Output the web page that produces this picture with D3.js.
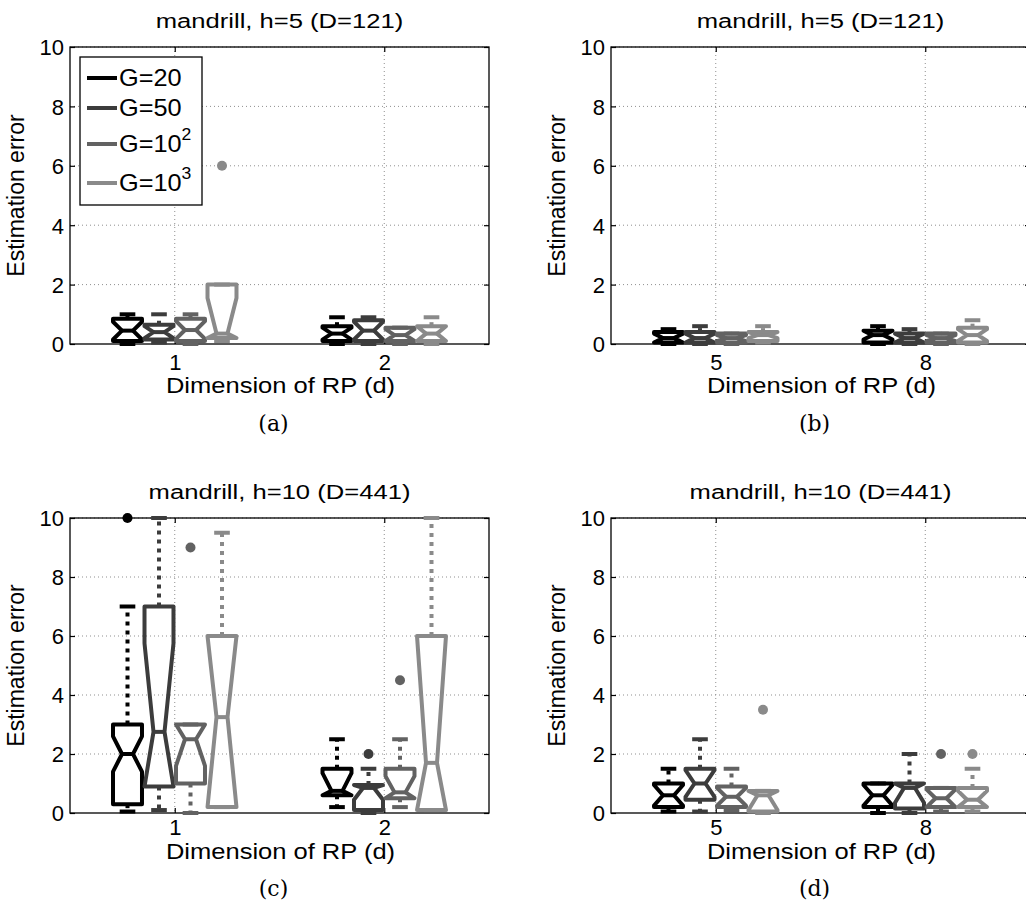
<!DOCTYPE html>
<html>
<head>
<meta charset="utf-8">
<script src="https://cdn.jsdelivr.net/npm/d3@7"></script>
<style>
  body { margin: 0; background: #fff; }
  text { font-family: "Liberation Sans", Arial, sans-serif; fill: #000; }
  .caption { font-family: "DejaVu Serif", "Liberation Serif", serif; }
</style>
</head>
<body>
<svg id="chart" width="1026" height="915"></svg>
<script>
// ---------------- data ----------------
var groups = ["G=20", "G=50", "G=10^2", "G=10^3"];
var titles = ["mandrill, h=5 (D=121)", "mandrill, h=5 (D=121)",
              "mandrill, h=10 (D=441)", "mandrill, h=10 (D=441)"];
var captions = ["(a)", "(b)", "(c)", "(d)"];
var dimsLow = ["1", "2"];
var dimsHigh = ["5", "8"];
var yTicks = [0, 2, 4, 6, 8, 10];

// one row per group: [lower whisker, q1, median, q3, upper whisker, notch half-width]
var statsA = [
  [[0.0, 0.1, 0.45, 0.85, 1.0, 0.3], [0.05, 0.15, 0.4, 0.65, 1.0, 0.2],
   [0.0, 0.1, 0.47, 0.85, 1.0, 0.3], [0.1, 0.2, 0.35, 2.0, 2.0, 1.2]],
  [[0.0, 0.1, 0.35, 0.6, 0.9, 0.2], [0.0, 0.1, 0.45, 0.8, 0.9, 0.3],
   [0.0, 0.1, 0.3, 0.55, 0.55, 0.2], [0.0, 0.1, 0.35, 0.6, 0.9, 0.25]]
];
var outliersA = [[[], [], [], [6]], [[], [], [], []]];

var statsB = [
  [[0.0, 0.05, 0.2, 0.4, 0.5, 0.15], [0.0, 0.05, 0.2, 0.4, 0.6, 0.15],
   [0.0, 0.05, 0.2, 0.35, 0.35, 0.1], [0.05, 0.1, 0.3, 0.4, 0.6, 0.1]],
  [[0.0, 0.05, 0.3, 0.45, 0.6, 0.15], [0.0, 0.05, 0.2, 0.35, 0.5, 0.15],
   [0.0, 0.05, 0.2, 0.35, 0.35, 0.1], [0.0, 0.05, 0.3, 0.55, 0.8, 0.2]]
];
var outliersB = [[[], [], [], []], [[], [], [], []]];

var statsC = [
  [[0.05, 0.3, 2.0, 3.0, 7.0, 0.6], [0.1, 0.9, 2.75, 7.0, 10.0, 3.0],
   [0.0, 1.0, 2.5, 3.0, 3.0, 0.9], [0.2, 0.2, 3.25, 6.0, 9.5, 3.5]],
  [[0.2, 0.6, 0.75, 1.5, 2.5, 0.6], [0.0, 0.1, 0.85, 0.95, 1.5, 0.4],
   [0.2, 0.5, 0.7, 1.5, 2.5, 0.55], [0.1, 0.1, 1.7, 6.0, 10.0, 4.5]]
];
var outliersC = [[[10], [], [9], []], [[], [2], [4.5], []]];

var statsD = [
  [[0.05, 0.2, 0.6, 1.0, 1.5, 0.35], [0.05, 0.45, 1.0, 1.5, 2.5, 0.45],
   [0.1, 0.2, 0.55, 0.9, 1.5, 0.3], [0.0, 0.05, 0.6, 0.75, 0.75, 0.5]],
  [[0.0, 0.2, 0.6, 1.0, 1.0, 0.35], [0.0, 0.15, 0.85, 1.0, 2.0, 0.5],
   [0.05, 0.2, 0.5, 0.85, 0.85, 0.3], [0.05, 0.2, 0.45, 0.85, 1.5, 0.3]]
];
var outliersD = [[[], [], [], [3.5]], [[], [], [2], [2]]];

// ---------------- style / layout ----------------
var colors = ["#000000", "#3c3c3c", "#626262", "#8a8a8a"];
var lw = 4;

var panels = [
  {title: titles[0], cap: captions[0], dims: dimsLow,  stats: statsA, out: outliersA,
   left: 70,  right: 489,  top: 47,  bottom: 344, tickY: 26, labY: 49, capY: 80, legend: true},
  {title: titles[1], cap: captions[1], dims: dimsHigh, stats: statsB, out: outliersB,
   left: 611, right: 1030, top: 47,  bottom: 344, tickY: 26, labY: 49, capY: 80},
  {title: titles[2], cap: captions[2], dims: dimsLow,  stats: statsC, out: outliersC,
   left: 70,  right: 489,  top: 518, bottom: 813, tickY: 22, labY: 46, capY: 76},
  {title: titles[3], cap: captions[3], dims: dimsHigh, stats: statsD, out: outliersD,
   left: 611, right: 1030, top: 518, bottom: 813, tickY: 22, labY: 46, capY: 76}
];

var svg = d3.select("#chart");

panels.forEach(drawPanel);

// text stretched horizontally (the reference glyphs are wider than Liberation Sans)
function wideText(g, x, y, str, size, sx) {
  return g.append("text")
    .attr("transform", "translate(" + x + "," + y + ") scale(" + sx + ",1)")
    .style("text-anchor", "middle").style("font-size", size + "px")
    .text(str);
}

function drawPanel(p) {
  var g = svg.append("g");
  var x = d3.scalePoint().domain(p.dims).range([p.left, p.right]).padding(0.5);
  var inner = d3.scaleBand().domain(groups).range([-63, 63]);
  var y = d3.scaleLinear().domain([0, 10]).range([p.bottom, p.top]);
  var bw = inner.bandwidth() * 0.92;

  //--------- grid (dotted) ---------
  g.append("g").selectAll("line").data(yTicks.slice(1))
    .enter().append("line")
    .attr("x1", p.left).attr("x2", p.right)
    .attr("y1", d => y(d)).attr("y2", d => y(d))
    .style("stroke", "#8f8f8f").style("stroke-width", 1)
    .style("stroke-dasharray", "1,3");
  g.append("g").selectAll("line").data(p.dims)
    .enter().append("line")
    .attr("x1", d => x(d)).attr("x2", d => x(d))
    .attr("y1", p.top).attr("y2", p.bottom)
    .style("stroke", "#8f8f8f").style("stroke-width", 1)
    .style("stroke-dasharray", "1,3");

  //--------- axes ---------
  var yAxis = g.append("g")
    .attr("transform", "translate(" + p.left + ",0)")
    .call(d3.axisLeft(y).tickValues(yTicks).tickSize(-5).tickPadding(6));
  var xAxis = g.append("g")
    .attr("transform", "translate(0," + p.bottom + ")")
    .call(d3.axisBottom(x).tickSize(-5));
  // mirrored ticks on top / right
  g.append("g").attr("transform", "translate(" + p.right + ",0)")
    .call(d3.axisRight(y).tickValues(yTicks).tickSize(-5).tickFormat(""));
  g.append("g").attr("transform", "translate(0," + p.top + ")")
    .call(d3.axisTop(x).tickSize(-5).tickFormat(""));
  g.selectAll(".domain").remove();
  g.selectAll(".tick line").style("stroke", "#000").style("stroke-width", 1.2);
  yAxis.selectAll("text").style("font-size", "22px").attr("dy", "0.36em");
  xAxis.selectAll("text").style("font-size", "22px")
    .attr("y", p.tickY).attr("dy", null);

  g.append("rect")
    .attr("x", p.left).attr("y", p.top)
    .attr("width", p.right - p.left).attr("height", p.bottom - p.top)
    .style("fill", "none").style("stroke", "#000").style("stroke-width", 1.3);

  //--------- boxes ---------
  var line = d3.line();
  p.dims.forEach(function(dim, di) {
    groups.forEach(function(grp, gi) {
      var s = p.stats[di][gi];
      var wl = s[0], q1 = s[1], med = s[2], q3 = s[3], wh = s[4], nh = s[5];
      var cx = x(dim) + inner(grp) + inner.bandwidth() / 2;
      var hw = bw / 2, nw = hw * 0.38, cw = bw * 0.27;
      var col = colors[gi];
      var bg = g.append("g");

      // whiskers
      bg.append("line")
        .attr("x1", cx).attr("x2", cx).attr("y1", y(q3)).attr("y2", y(wh))
        .style("stroke", col).style("stroke-width", lw).style("stroke-dasharray", "4,5");
      bg.append("line")
        .attr("x1", cx).attr("x2", cx).attr("y1", y(q1)).attr("y2", y(wl))
        .style("stroke", col).style("stroke-width", lw).style("stroke-dasharray", "4,5");
      [wl, wh].forEach(function(v) {
        bg.append("line")
          .attr("x1", cx - cw).attr("x2", cx + cw).attr("y1", y(v)).attr("y2", y(v))
          .style("stroke", col).style("stroke-width", lw);
      });

      // notched box
      var nlo = Math.max(q1, med - nh), nhi = Math.min(q3, med + nh);
      var pts = [
        [cx - hw, y(q1)], [cx - hw, y(nlo)], [cx - nw, y(med)], [cx - hw, y(nhi)],
        [cx - hw, y(q3)], [cx + hw, y(q3)], [cx + hw, y(nhi)], [cx + nw, y(med)],
        [cx + hw, y(nlo)], [cx + hw, y(q1)], [cx - hw, y(q1)]
      ];
      bg.append("path")
        .attr("d", line(pts) + "Z")
        .style("fill", "none").style("stroke", col).style("stroke-width", lw)
        .style("stroke-linejoin", "round");
      bg.append("line")
        .attr("x1", cx - nw).attr("x2", cx + nw).attr("y1", y(med)).attr("y2", y(med))
        .style("stroke", col).style("stroke-width", lw);

      // outliers
      bg.selectAll("circle").data(p.out[di][gi])
        .enter().append("circle")
        .attr("cx", cx).attr("cy", d => y(d)).attr("r", 5)
        .style("fill", col);
    });
  });

  //--------- texts ---------
  var mid = (p.left + p.right) / 2;
  wideText(g, mid, p.top - 19, p.title, 21, 1.22);
  g.append("text")
    .attr("transform", "translate(" + (p.left - 46) + "," + ((p.top + p.bottom) / 2) + ") rotate(-90)")
    .style("text-anchor", "middle").style("font-size", "23px")
    .text("Estimation error");
  wideText(g, mid + 1, p.bottom + p.labY, "Dimension of RP (d)", 22, 1.16);
  g.append("text")
    .attr("class", "caption")
    .attr("x", mid - 6).attr("y", p.bottom + p.capY + 7)
    .style("text-anchor", "middle").style("font-size", "22px")
    .text(p.cap);

  if (p.legend) drawLegend(g, p);
}

function drawLegend(g, p) {
  var lx = p.left + 10, ly = p.top + 10;
  var lg = g.append("g");
  lg.append("rect")
    .attr("x", lx).attr("y", ly).attr("width", 122).attr("height", 148)
    .style("fill", "#fff").style("stroke", "#000").style("stroke-width", 1.3);
  var rowY = [21, 51, 87, 126];
  groups.forEach(function(grp, i) {
    var yy = ly + rowY[i];
    lg.append("line")
      .attr("x1", lx + 7).attr("x2", lx + 37).attr("y1", yy).attr("y2", yy)
      .style("stroke", colors[i]).style("stroke-width", lw);
    var parts = grp.split("^");
    var t = lg.append("text")
      .attr("transform", "translate(" + (lx + 39) + "," + (yy + 8) + ") scale(1.1,1)")
      .style("font-size", "23px");
    t.append("tspan").text(parts[0]);
    if (parts[1]) {
      t.append("tspan").attr("dy", -12).style("font-size", "16px").text(parts[1]);
    }
  });
}
</script>
</body>
</html>
